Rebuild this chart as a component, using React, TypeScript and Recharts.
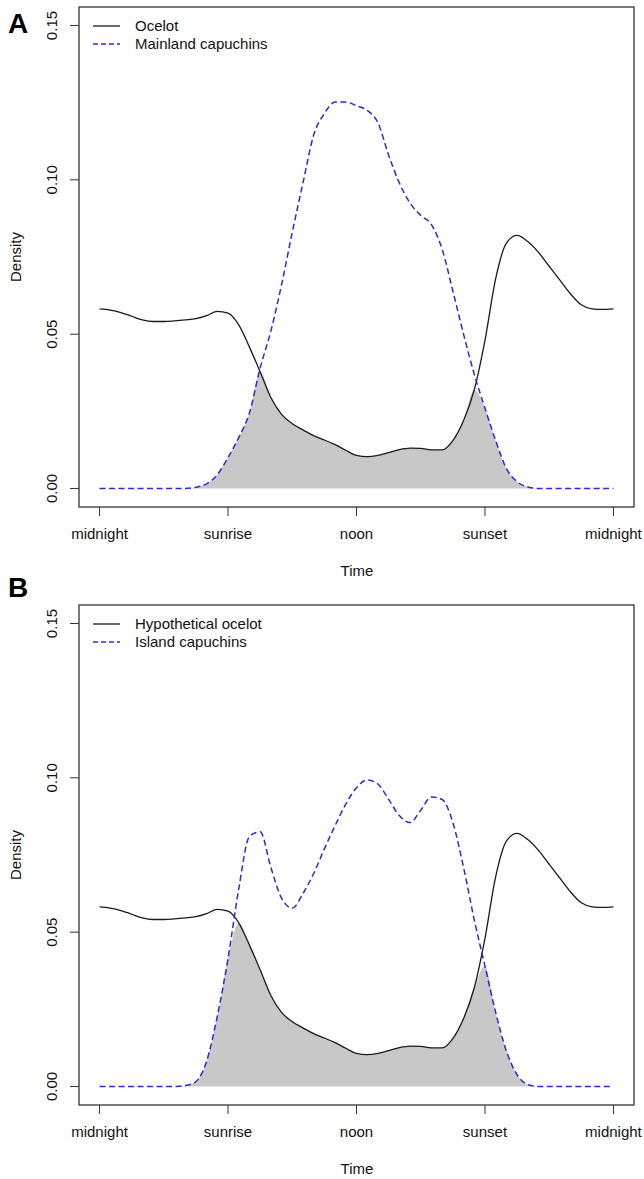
import React from 'react';
import { ComposedChart, Line, Area, XAxis, YAxis } from 'recharts';

// hours of the day, sampled every half hour
const HOURS = [
  0, 0.5, 1, 1.5, 2, 2.5, 3, 3.5, 4, 4.5, 5, 5.5, 6, 6.5, 7, 7.5, 8, 8.5, 9, 9.5, 10, 10.5, 11, 11.5,
  12, 12.5, 13, 13.5, 14, 14.5, 15, 15.5, 16, 16.5, 17, 17.5, 18, 18.5, 19, 19.5, 20, 20.5, 21, 21.5,
  22, 22.5, 23, 23.5, 24,
];

const OCELOT = [
  0.0582, 0.0578, 0.057, 0.0558, 0.0546, 0.0541, 0.0541, 0.0543, 0.0546, 0.055, 0.056, 0.0574,
  0.0568, 0.053, 0.0458, 0.0378, 0.0295, 0.024, 0.021, 0.019, 0.0171, 0.0157, 0.0142, 0.0124,
  0.0107, 0.0103, 0.0107, 0.0116, 0.0126, 0.0131, 0.013, 0.0125, 0.0125, 0.0155, 0.022, 0.032,
  0.048, 0.068, 0.0795, 0.082, 0.08, 0.0765, 0.072, 0.0675, 0.063, 0.0595, 0.0582, 0.058, 0.0582,
];

const MAINLAND = [
  0, 0, 0, 0, 0, 0, 0, 0, 0, 0.0004, 0.0015, 0.0045, 0.01, 0.0165, 0.0245, 0.039, 0.051, 0.066,
  0.083, 0.099, 0.1145, 0.1215, 0.1252, 0.1252, 0.124, 0.1225, 0.1185, 0.108, 0.099, 0.0925,
  0.0885, 0.0855, 0.0775, 0.064, 0.05, 0.037, 0.026, 0.0155, 0.0065, 0.0022, 0.0005, 0, 0, 0, 0,
  0, 0, 0, 0,
];

const ISLAND = [
  0, 0, 0, 0, 0, 0, 0, 0, 0.0003, 0.0016, 0.0082, 0.0228, 0.0415, 0.064, 0.081, 0.0825, 0.071,
  0.061, 0.0578, 0.0625, 0.069, 0.077, 0.0845, 0.0915, 0.0968, 0.0993, 0.098, 0.093, 0.0878,
  0.0855, 0.0895, 0.0938, 0.093, 0.0855, 0.071, 0.054, 0.039, 0.024, 0.0115, 0.0038, 0.0006, 0, 0,
  0, 0, 0, 0, 0, 0,
];

const TIME_TICKS = [0, 6, 12, 18, 24];
const TIME_LABELS = ['midnight', 'sunrise', 'noon', 'sunset', 'midnight'];
const DENSITY_TICKS = [0, 0.05, 0.1, 0.15];

const PANELS = [
  { letter: 'A', top: 0, predator: 'Ocelot', prey: 'Mainland capuchins', predatorValues: OCELOT, preyValues: MAINLAND },
  { letter: 'B', top: 598, predator: 'Hypothetical ocelot', prey: 'Island capuchins', predatorValues: OCELOT, preyValues: ISLAND },
];

const FONT = '"Liberation Sans", Arial, Helvetica, sans-serif';
const BLUE = '#2a2ad8';
const W = 644;
const H = 590;

const XTick = (props: any) => {
  const { x, payload } = props;
  const idx = TIME_TICKS.indexOf(payload.value);
  return (
    <text x={x} y={539} textAnchor="middle" fontSize={15} fontFamily={FONT} fill="#111">
      {TIME_LABELS[idx]}
    </text>
  );
};

const YTick = (props: any) => {
  const { y, payload } = props;
  return (
    <text
      x={57}
      y={y}
      transform={`rotate(-90 57 ${y})`}
      textAnchor="middle"
      fontSize={15}
      fontFamily={FONT}
      fill="#111"
    >
      {payload.value.toFixed(2)}
    </text>
  );
};

const Panel = ({ panel }: { panel: (typeof PANELS)[number] }) => {
  const rows = HOURS.map((h, i) => ({
    h,
    predator: panel.predatorValues[i],
    prey: panel.preyValues[i],
    overlap: Math.min(panel.predatorValues[i], panel.preyValues[i]),
  }));

  return (
    <div style={{ position: 'absolute', left: 0, top: panel.top, width: W, height: H }}>
      <ComposedChart width={W} height={H} data={rows} margin={{ top: 7, right: 10, bottom: 0, left: 0 }}>
        <XAxis
          dataKey="h"
          type="number"
          domain={[-0.96, 24.96]}
          ticks={TIME_TICKS}
          interval={0}
          height={83}
          tickSize={9}
          axisLine={false}
          tickLine={{ stroke: '#333' }}
          tick={(p: any) => <XTick {...p} />}
        />
        <YAxis
          type="number"
          domain={[-0.006, 0.156]}
          ticks={DENSITY_TICKS}
          interval={0}
          width={79}
          tickSize={9}
          axisLine={false}
          tickLine={{ stroke: '#333' }}
          tick={(p: any) => <YTick {...p} />}
          allowDataOverflow
        />
        <Area
          dataKey="overlap"
          type="monotone"
          fill="#c8c8c8"
          fillOpacity={1}
          stroke="none"
          baseValue={0}
          isAnimationActive={false}
          dot={false}
          activeDot={false}
        />
        <Line
          dataKey="predator"
          type="monotone"
          stroke="#1a1a1a"
          strokeWidth={1.3}
          dot={false}
          activeDot={false}
          isAnimationActive={false}
        />
        <Line
          dataKey="prey"
          type="monotone"
          stroke={BLUE}
          strokeWidth={1.5}
          strokeDasharray="6 3.5"
          dot={false}
          activeDot={false}
          isAnimationActive={false}
        />
      </ComposedChart>
      <svg
        width={W}
        height={H}
        style={{ position: 'absolute', left: 0, top: 0, pointerEvents: 'none', overflow: 'visible' }}
      >
        <rect x={79} y={7} width={555} height={500} fill="none" stroke="#333" strokeWidth={1.3} />
        <line x1={93} x2={120} y1={26} y2={26} stroke="#1a1a1a" strokeWidth={1.3} />
        <text x={135} y={31} fontSize={15} fontFamily={FONT} fill="#111">
          {panel.predator}
        </text>
        <line x1={93} x2={120} y1={44} y2={44} stroke={BLUE} strokeWidth={1.5} strokeDasharray="5 3" />
        <text x={135} y={49} fontSize={15} fontFamily={FONT} fill="#111">
          {panel.prey}
        </text>
        <text
          x={21}
          y={257}
          transform="rotate(-90 21 257)"
          textAnchor="middle"
          fontSize={15}
          fontFamily={FONT}
          fill="#111"
        >
          Density
        </text>
        <text x={357} y={576} textAnchor="middle" fontSize={15} fontFamily={FONT} fill="#111">
          Time
        </text>
        <text
          x={8}
          y={panel.letter === 'A' ? 33 : -1}
          fontSize={28}
          fontWeight="bold"
          fontFamily={FONT}
          fill="#000"
        >
          {panel.letter}
        </text>
      </svg>
    </div>
  );
};

export default function App() {
  return (
    <div
      style={{
        position: 'absolute',
        left: 0,
        top: 0,
        width: W,
        height: 1179,
        overflow: 'hidden',
        background: '#fff',
      }}
    >
      {PANELS.map((p) => (
        <Panel key={p.letter} panel={p} />
      ))}
    </div>
  );
}
